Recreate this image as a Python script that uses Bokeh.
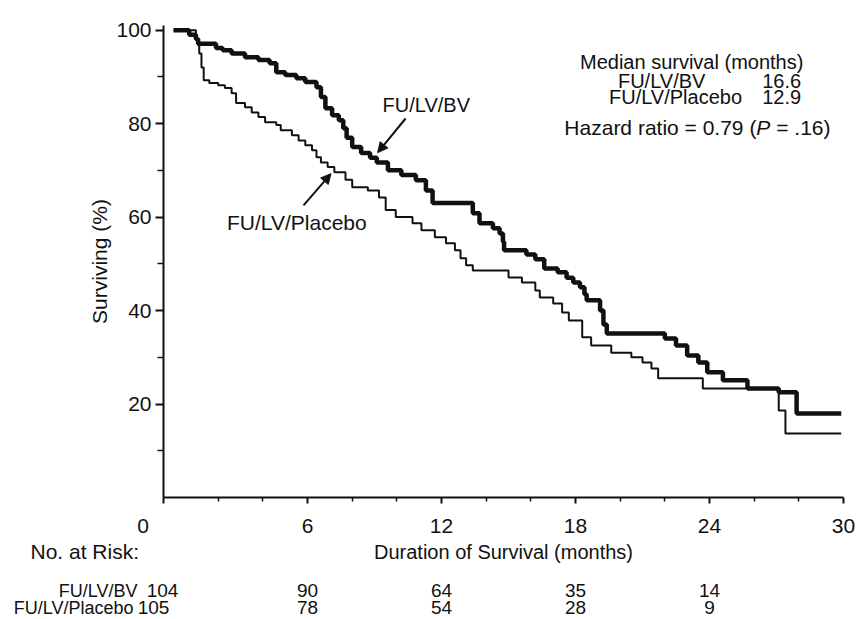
from bokeh.plotting import figure
from bokeh.layouts import column
from bokeh.models import Range1d, FixedTicker, Label, Arrow, NormalHead
from bokeh.core.properties import value
from bokeh.embed import file_html
from bokeh.resources import INLINE

# Kaplan-Meier estimates: time (months) and % surviving after each step
bv_months = [0, 0.7, 1.0, 1.1, 1.9, 2.2, 2.6, 3.2, 3.8, 4.3, 4.6, 5.0, 5.5, 5.9, 6.4,
             6.6, 6.8, 7.1, 7.4, 7.6, 7.75, 8.0, 8.4, 8.8, 9.1, 9.6, 10.2, 10.85, 11.3,
             11.6, 13.4, 13.7, 14.3, 14.6, 14.75, 14.8, 15.8, 16.2, 16.6, 17.2, 17.6,
             17.9, 18.2, 18.4, 18.5, 19.1, 19.25, 19.4, 22.0, 22.5, 23.0, 23.5, 23.9,
             24.6, 25.7, 27.1, 27.9, 29.9]
bv_surv = [100, 99.0, 98.1, 97.1, 96.2, 95.7, 95.0, 94.2, 93.6, 92.9, 91.0, 90.4, 89.7,
           88.9, 87.8, 85.7, 83.3, 81.8, 80.7, 79.0, 77.0, 75.0, 73.7, 72.7, 71.7, 70.0,
           69.0, 67.9, 65.7, 63.0, 60.8, 58.7, 57.6, 56.5, 54.7, 52.9, 52.0, 51.0, 49.0,
           48.2, 47.0, 46.0, 45.0, 43.5, 42.2, 40.0, 37.0, 35.1, 34.0, 32.5, 30.4, 28.9,
           26.8, 25.1, 23.3, 22.5, 18.0, 18.0]

pl_months = [0, 1.0, 1.1, 1.15, 1.25, 1.35, 1.6, 2.0, 2.3, 2.6, 2.8, 3.2, 3.5, 3.8, 4.1,
             4.6, 4.8, 5.3, 5.6, 5.9, 6.2, 6.4, 6.6, 6.9, 7.2, 7.7, 8.0, 8.7, 9.2, 9.5,
             9.95, 10.7, 11.1, 11.7, 12.2, 12.6, 12.85, 13.1, 13.4, 15.0, 15.6, 16.2,
             16.4, 17.0, 17.4, 17.7, 18.3, 18.7, 19.6, 20.5, 21.0, 21.4, 21.7, 23.7,
             27.1, 27.4, 29.9]
pl_surv = [100, 97.9, 96.8, 95.0, 92.0, 89.3, 88.7, 88.2, 87.6, 86.5, 84.4, 83.5, 82.4,
           81.4, 80.3, 79.7, 78.6, 77.5, 76.4, 75.4, 74.3, 72.8, 71.7, 70.7, 69.6, 68.0,
           66.4, 65.7, 64.2, 61.5, 60.0, 58.7, 57.2, 55.7, 54.4, 52.9, 51.2, 49.7, 48.6,
           47.1, 46.0, 44.3, 42.8, 41.5, 39.6, 37.9, 34.3, 32.5, 31.0, 30.0, 28.9, 27.6,
           25.5, 23.3, 18.6, 13.7, 13.7]

x_ticks = [6, 12, 18, 24, 30]
x_minor = [2, 4, 8, 10, 14, 16, 20, 22, 26, 28]
y_ticks = [20, 40, 60, 80, 100]
y_minor = [10, 30, 50, 70, 90]

risk_months = [0, 6, 12, 18, 24]
risk_bv = [104, 90, 64, 35, 14]
risk_pl = [105, 78, 54, 28, 9]

arm_names = ["FU/LV/BV", "FU/LV/Placebo"]
median_months = ["16.6", "12.9"]
hazard_ratio = "0.79"
p_value = ".16"

FONT = "Liberation Sans"
INK = "#111111"
NBSP = "\u00a0"

# plot geometry (pixels) and data extent
W = 856
LEFT, RIGHT, TOP, BOTTOM = 163, 13, 25, 42
FRAME_H = 472
X0, X1 = -0.45, 30.0
PX_PER_MONTH = (W - LEFT - RIGHT) / (X1 - X0)


def month_at(px):
    return X0 + (px - LEFT) / PX_PER_MONTH


p = figure(width=W, height=TOP + FRAME_H + BOTTOM, output_backend="svg",
           toolbar_location=None, x_range=Range1d(X0, X1), y_range=Range1d(0, 101),
           min_border_left=LEFT, min_border_right=RIGHT, min_border_top=TOP,
           min_border_bottom=BOTTOM, background_fill_color="white",
           border_fill_color="white", outline_line_color=None, frame_align=False)
p.grid.visible = False

# survival curves
p.step(bv_months, bv_surv, mode="after", line_width=4.5, line_color=INK)
p.step(pl_months, pl_surv, mode="after", line_width=2, line_color=INK)

# axes
for ax in (p.xaxis[0], p.yaxis[0]):
    ax.axis_line_width = 2
    ax.axis_line_color = INK
    ax.major_tick_line_color = INK
    ax.minor_tick_line_color = INK
    ax.major_tick_line_width = 2
    ax.minor_tick_line_width = 1.5
    ax.major_tick_in = 0
    ax.minor_tick_in = 0
    ax.major_label_text_font = FONT
    ax.major_label_text_font_size = "21px"
    ax.major_label_text_color = INK
    ax.axis_label_text_font = FONT
    ax.axis_label_text_font_size = "21px"
    ax.axis_label_text_font_style = "normal"
    ax.axis_label_text_color = INK

# the shared origin "0" sits at the corner, left of the y axis
p.xaxis.ticker = FixedTicker(ticks=[X0] + x_ticks, minor_ticks=x_minor)
p.xaxis.major_label_overrides = {X0: "0" + NBSP * 7}
p.xaxis.major_tick_out = 6
p.xaxis.minor_tick_out = 4
p.xaxis.major_label_standoff = 10

p.yaxis.ticker = FixedTicker(ticks=y_ticks, minor_ticks=y_minor)
p.yaxis.major_tick_out = 8
p.yaxis.minor_tick_out = 6
p.yaxis.major_label_standoff = 4
p.yaxis.axis_label = "Surviving (%)"
p.yaxis.axis_label_standoff = 2


def label(x, y, text, size="20px", align="left", xo=0, style="normal"):
    p.add_layout(Label(x=x, y=y, text=text, x_offset=xo, text_font=FONT,
                       text_font_size=size, text_align=align, text_baseline="middle",
                       text_color=INK, text_font_style=style))


# curve call-outs
label(9.36, 83.9, arm_names[0])
p.add_layout(Arrow(x_start=10.39, y_start=81.1, x_end=9.14, y_end=73.8,
                   line_width=2, line_color=INK,
                   end=NormalHead(size=10, fill_color=INK, line_color=INK)))
label(8.65, 58.8, arm_names[1], size="21px", align="right")
p.add_layout(Arrow(x_start=5.82, y_start=62.5, x_end=7.05, y_end=69.3,
                   line_width=2, line_color=INK,
                   end=NormalHead(size=10, fill_color=INK, line_color=INK)))

# median survival / hazard ratio block
label(18.2, 93.1, "Median survival (months)")
label(19.9, 89.2, arm_names[0])
label(28.1, 89.2, median_months[0], align="right")
label(19.5, 85.6, arm_names[1])
label(28.1, 85.6, median_months[1], align="right")
em = 21
label(17.5, 79.2, "Hazard ratio = " + hazard_ratio + " (", size="21px")
label(17.5, 79.2, "P", size="21px", style="italic", xo=em * 9.143)
label(17.5, 79.2, NBSP + "= " + p_value + ")", size="21px", xo=em * (9.143 + 0.667))

# axis title and number-at-risk table, on the same month scale
TABLE_H = 619 - (TOP + FRAME_H + BOTTOM)
t = figure(width=W, height=TABLE_H, output_backend="svg", toolbar_location=None,
           x_range=Range1d(X0 - LEFT / PX_PER_MONTH, X1 + RIGHT / PX_PER_MONTH),
           y_range=Range1d(TABLE_H, 0), x_axis_location=None, y_axis_location=None,
           min_border=0, outline_line_color=None, background_fill_color="white",
           border_fill_color="white", frame_align=False)
t.grid.visible = False

ROW_TITLE, ROW_BV, ROW_PL = 12, 51, 68
t.text(x=[(X0 + X1) / 2], y=[ROW_TITLE], text=["Duration of Survival (months)"],
       text_font=value(FONT), text_font_size="20px", text_align="center",
       text_baseline="middle", text_color=INK)
t.text(x=[month_at(30)], y=[ROW_TITLE], text=["No. at Risk:"],
       text_font=value(FONT), text_font_size="21px", text_align="left",
       text_baseline="middle", text_color=INK)
t.text(x=[month_at(137), month_at(133)], y=[ROW_BV, ROW_PL], text=arm_names,
       text_font=value(FONT), text_font_size="18px", text_align="right",
       text_baseline="middle", text_color=INK)
t.text(x=risk_months, y=[ROW_BV] * len(risk_months), text=[str(v) for v in risk_bv],
       x_offset=[-11, 0, 0, 0, 0], text_font=value(FONT), text_font_size="19px",
       text_align="center", text_baseline="middle", text_color=INK)
t.text(x=risk_months, y=[ROW_PL] * len(risk_months), text=[str(v) for v in risk_pl],
       x_offset=[-20, 0, 0, 0, 0], text_font=value(FONT), text_font_size="19px",
       text_align="center", text_baseline="middle", text_color=INK)

layout = column(p, t, spacing=0)
open("out.html", "w").write(file_html(layout, INLINE))
